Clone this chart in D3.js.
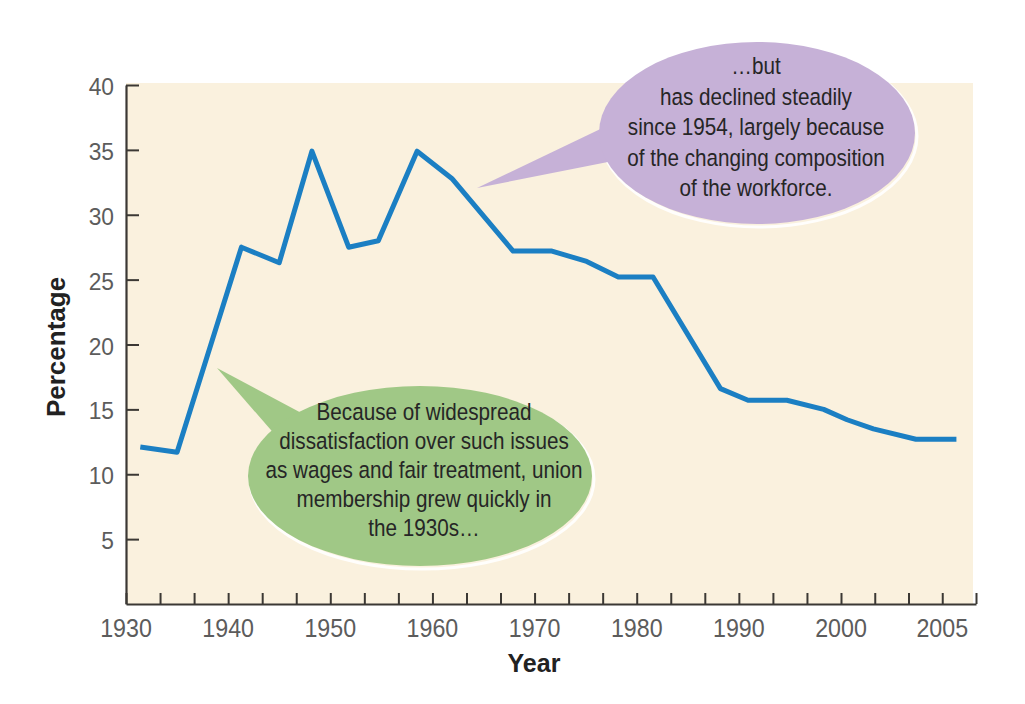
<!DOCTYPE html>
<html>
<head>
<meta charset="utf-8">
<script src="https://cdn.jsdelivr.net/npm/d3@7"></script>
<style>
  html, body { margin: 0; padding: 0; background: #ffffff; }
  svg { display: block; }
  text { font-family: "Liberation Sans", Arial, Helvetica, sans-serif; }
</style>
</head>
<body>
<svg id="chart" width="1025" height="704"></svg>
<script>
// ---- data ----
const years = [1931.4, 1935, 1941.3, 1945, 1948.2, 1951.8, 1954.7, 1958.5, 1961.9, 1967.9,
               1971.7, 1975.1, 1978.2, 1981.6, 1988.2, 1990.9, 1994.7, 1998.3, 2000.3,
               2001.6, 2003.7, 2005.7];
const percentages = [12.1, 11.7, 27.5, 26.3, 34.9, 27.5, 28.0, 34.9, 32.8, 27.2,
                     27.2, 26.4, 25.2, 25.2, 16.6, 15.7, 15.7, 15.0, 14.2,
                     13.5, 12.7, 12.7];
const xTickLabels = [1930, 1940, 1950, 1960, 1970, 1980, 1990, 2000, 2005];
const yTickLabels = [5, 10, 15, 20, 25, 30, 35, 40];
const greenNote = ["Because of widespread", "dissatisfaction over such issues",
                   "as wages and fair treatment, union", "membership grew quickly in",
                   "the 1930s\u2026"];
const purpleNote = ["\u2026but", "has declined steadily", "since 1954, largely because",
                    "of the changing composition", "of the workforce."];
const xTitle = "Year";
const yTitle = "Percentage";

// ---- layout ----
const svg = d3.select("#chart");
const plotLeft = 126, plotRight = 976, plotTop = 85, plotBottom = 604;

// the printed axis spaces 2000-2005 like ten-year steps: piecewise scale
const x = d3.scaleLinear().domain([1930, 2000, 2006.667]).range([plotLeft, 841, plotRight]);
const y = d3.scaleLinear().domain([0, 40]).range([plotBottom, plotTop]);

// plot background
svg.append("rect").attr("x", plotLeft).attr("y", plotTop - 2)
  .attr("width", 973 - plotLeft).attr("height", plotBottom - plotTop + 2)
  .attr("fill", "#faf1de");

// ---- line ----
const line = d3.line().x((d, i) => x(years[i])).y(d => y(d));
svg.append("path").datum(percentages)
  .attr("d", line).attr("fill", "none")
  .attr("stroke", "#1b7fc3").attr("stroke-width", 5)
  .attr("stroke-linejoin", "round").attr("stroke-linecap", "butt");

// ---- axes ----
const axisColor = "#3b3834";
const minorTicks = d3.range(1930, 2000.01, 10 / 3).concat([2001.667, 2003.333, 2005, 2006.667]);

const gx = svg.append("g").attr("transform", `translate(0,${plotBottom})`)
  .call(d3.axisBottom(x).tickValues(minorTicks).tickSize(-11).tickSizeOuter(0).tickFormat(""));
gx.select(".domain").attr("stroke", axisColor).attr("stroke-width", 2.2);
gx.selectAll(".tick line").attr("stroke", axisColor).attr("stroke-width", 2);

svg.append("g").selectAll("text").data(xTickLabels).join("text")
  .attr("transform", d => `translate(${x(d)},637) scale(0.93,1)`)
  .attr("text-anchor", "middle")
  .attr("font-size", 25).attr("fill", "#5c5c5c")
  .text(d => d);

const gy = svg.append("g").attr("transform", `translate(${plotLeft},0)`)
  .call(d3.axisLeft(y).tickValues(yTickLabels).tickSize(-13).tickSizeOuter(0).tickFormat(""));
gy.select(".domain").attr("stroke", axisColor).attr("stroke-width", 2.2);
gy.selectAll(".tick line").attr("stroke", axisColor).attr("stroke-width", 2);

svg.append("g").selectAll("text").data(yTickLabels).join("text")
  .attr("transform", d => `translate(114,${y(d) + 10}) scale(0.95,1)`)
  .attr("text-anchor", "end")
  .attr("font-size", 24).attr("fill", "#5c5c5c")
  .text(d => d);

// titles
svg.append("text").attr("x", 534).attr("y", 672)
  .attr("text-anchor", "middle").attr("font-size", 25).attr("font-weight", "bold")
  .attr("fill", "#222").text(xTitle);
svg.append("text").attr("transform", "translate(65,347) rotate(-90)")
  .attr("text-anchor", "middle").attr("font-size", 26).attr("font-weight", "bold")
  .attr("fill", "#222").text(yTitle);

// ---- callout bubbles ----
function bubble(cx, cy, rx, ry, tail, fill, lines, textX, firstBase, step) {
  const g = svg.append("g");
  g.append("ellipse").attr("cx", cx + 2).attr("cy", cy + 3).attr("rx", rx).attr("ry", ry)
    .attr("fill", "none").attr("stroke", "#ffffff").attr("stroke-width", 3).attr("opacity", 0.9);
  g.append("polygon").attr("points", tail.map(p => p.join(",")).join(" ")).attr("fill", fill);
  g.append("ellipse").attr("cx", cx).attr("cy", cy).attr("rx", rx).attr("ry", ry).attr("fill", fill);
  g.append("g").selectAll("text").data(lines).join("text")
    .attr("transform", (d, i) => `translate(${textX},${firstBase + i * step}) scale(0.88,1)`)
    .attr("text-anchor", "middle").attr("font-size", 23.5).attr("fill", "#262626")
    .text(d => d);
}

bubble(420, 476, 172, 90, [[217, 368], [322, 424], [290, 452]], "#a0c886",
       greenNote, 424, 420, 29);
bubble(757, 133, 158, 91, [[477, 188], [615, 122], [618, 160]], "#c6b1d7",
       purpleNote, 756, 74, 30.5);
</script>
</body>
</html>
